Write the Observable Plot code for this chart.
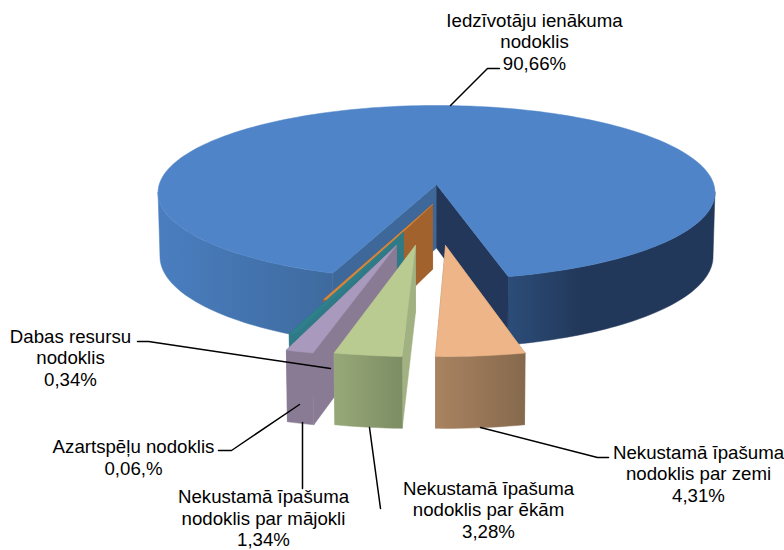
<!DOCTYPE html>
<html><head><meta charset="utf-8">
<script src="https://cdn.jsdelivr.net/npm/d3@7"></script>
<script src="https://cdn.jsdelivr.net/npm/@observablehq/plot@0.6"></script>
<style>html,body{margin:0;padding:0;background:#fff}svg{display:block}</style>
</head><body><div id="chart"></div>
<script>
// Data, clockwise from the blue slice's left cut
const categories = ["Iedzīvotāju ienākuma\nnodoklis","Nekustamā īpašuma\nnodoklis par zemi","Nekustamā īpašuma\nnodoklis par ēkām","Nekustamā īpašuma\nnodoklis par mājokli","Dabas resursu\nnodoklis","Azartspēļu nodoklis"];
const valueLabels = ["90,66%","4,31%","3,28%","1,34%","0,34%","0,06,%"];
const shares = [90.66,4.31,3.28,1.34,0.34,0.06];
const sliceColors = ["#4f85c8","#edb588","#b9cb91","#a99abd","#2f7f8c","#d4863c"];
const innerColors = ["#3d6899","#a08060","#a2b182","#8a7b95","#2f7a86","#a2622d"];

// Layout
const firstAngle = 200;
const minDrawnSpan = 1.2;
const pull = [[0,0],[.0306,.664],[-.0714,.664],[-.136,.664],[-.1137,.529],[-.014,.227]];
const order = [5,4,3,2,1];
const labelAt = [[534,41],[698,473],[488,509],[263,517.5],[70,357],[133,456.5]];
const leaders = [
 [[450,105],[487,68],[499,68]],
 [[480,427],[597,457],[608,457]],
 [[369,427],[380,508]],
 [[302,422],[302,488]],
 [[137,341],[148,341],[330,368]],
 [[218,450],[231,450],[299,404]]
];

// Perspective of the pie plane
const cx=436, cy=184, sx=277.3, sy=86.3, persp=.092;
function project(u,v,down){
  const w=1-persp*v;
  let x=cx+sx*u/w, y=cy+sy*v/w;
  if(down){ y+=63.5+5*v; x=cx+(x-cx)*.993; }
  return {x,y};
}
const rim=(t,r,p,down)=>project(p[0]+r*Math.sin(t*Math.PI/180),p[1]-r*Math.cos(t*Math.PI/180),down);
const arc=(a,b,r,p,down)=>{const n=Math.max(2,Math.ceil(Math.abs(b-a)/1.5));return d3.range(n+1).map(i=>rim(a+(b-a)*i/n,r,p,down));};

let acc=firstAngle;
const spans=shares.map(s=>{const a=acc;acc+=s*3.6;return [a,acc];});
const poly=(pts,fill)=>Plot.line([...pts,pts[0]],{x:"x",y:"y",fill,stroke:fill,strokeWidth:.5,curve:"linear"});

const marks=[];
// blue slice
{
 const [a,b]=spans[0],p=pull[0],R=1;
 const c=project(0,0),cd=project(0,0,true);
 marks.push(poly([...arc(a,265,R,p),...arc(265,a,R,p,true)],"url(#wallL)"));
 marks.push(poly([...arc(95,b-360,R,p),...arc(b-360,95,R,p,true)],"url(#wallR)"));
 marks.push(poly([c,rim(a,R,p),rim(a,R,p,true),cd],innerColors[0]));
 marks.push(poly([c,rim(b,R,p),rim(b,R,p,true),cd],"#22375a"));
 marks.push(poly([c,...arc(a,b,R,p)],sliceColors[0]));
}
// pulled slices, back to front: side faces, outer wall, top
for(const i of order){
 const [s,b]=spans[i],a=Math.min(s,b-minDrawnSpan),p=pull[i],R=1.02;
 const c=project(p[0],p[1]),cd=project(p[0],p[1],true);
 marks.push(poly([c,rim(a,R,p),rim(a,R,p,true),cd],innerColors[i]));
 marks.push(poly([c,rim(b,R,p),rim(b,R,p,true),cd],innerColors[i]));
 marks.push(poly([...arc(a,b,R,p),...arc(b,a,R,p,true)],i===1?"url(#wallPeach)":i===2?"url(#wallGreen)":innerColors[i]));
 marks.push(poly([c,...arc(a,b,R,p)],sliceColors[i]));
}
// leaders and labels
leaders.forEach(l=>marks.push(Plot.line(l.map(([x,y])=>({x,y})),{x:"x",y:"y",stroke:"#000",strokeWidth:1.5,curve:"linear"})));
marks.push(Plot.text(categories.map((c,i)=>({t:c+"\n"+valueLabels[i],x:labelAt[i][0],y:labelAt[i][1]})),{x:"x",y:"y",text:"t",fontSize:18.67,lineHeight:1.15,lineAnchor:"middle",textAnchor:"middle",fill:"#000"}));

const chart=Plot.plot({width:784,height:550,margin:0,x:{domain:[0,784],axis:null},y:{domain:[550,0],axis:null},style:{fontFamily:"'Liberation Sans',Arial,sans-serif",background:"#fff"},marks});
const grads={wallL:[["0","#4a7ec0"],["1","#3e6a9e"]],wallR:[["0","#2c4d79"],["0.35","#22385a"],["1","#22385a"]],wallPeach:[["0","#a98361"],["1","#86694d"]],wallGreen:[["0","#97a878"],["1","#7d8d64"]]};
const defs=d3.select(chart).append("defs");
for(const id in grads){const g=defs.append("linearGradient").attr("id",id);grads[id].forEach(([o,c])=>g.append("stop").attr("offset",o).attr("stop-color",c));}
document.getElementById("chart").append(chart);
</script></body></html>
